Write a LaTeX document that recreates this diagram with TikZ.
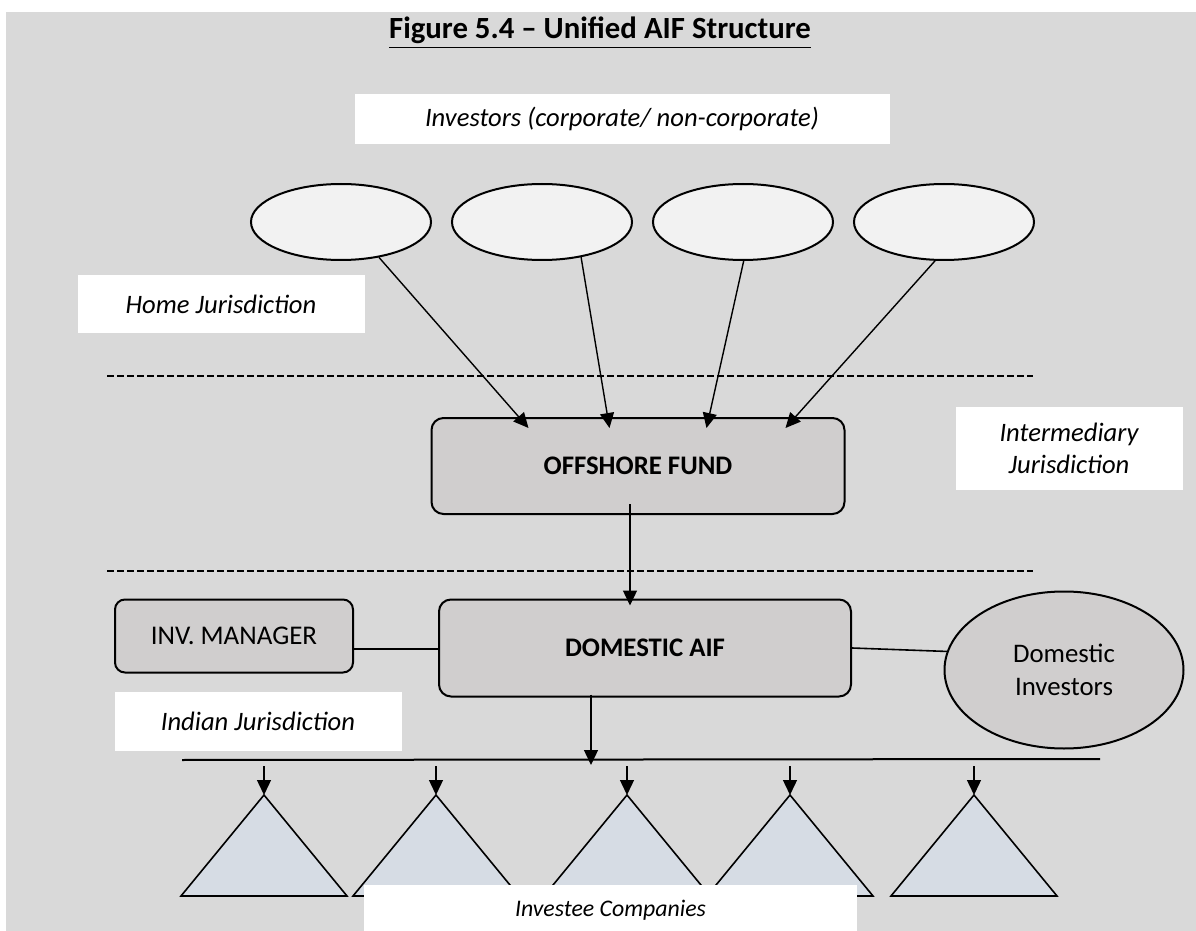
\documentclass[tikz,border=0pt]{standalone}
\usepackage{fontspec}
\setmainfont{Carlito}
\usetikzlibrary{arrows.meta,positioning,shapes.geometric,calc}
\definecolor{bggray}{HTML}{D9D9D9}
\definecolor{ellfill}{HTML}{F2F2F2}
\definecolor{boxfill}{HTML}{D0CECE}
\definecolor{trifill}{HTML}{D6DCE4}
\tikzstyle{investor} = [ellipse, draw=black, fill=ellfill, line width=1pt, minimum width=90pt, minimum height=38pt, inner sep=0pt]
\tikzstyle{fund} = [rectangle, rounded corners=6pt, draw=black, fill=boxfill, line width=1pt, font=\bfseries\fontsize{13.4}{16}\selectfont]
\tikzstyle{jurbox} = [rectangle, fill=white, inner sep=0pt, align=center, font=\itshape\fontsize{13.3}{16}\selectfont]
\tikzstyle{company} = [draw=black, fill=trifill, line width=0.8pt, line join=miter]
\tikzstyle{arrow} = [line width=0.7pt, -{Triangle[length=7.5pt,width=7pt]}]
\tikzstyle{link} = [line width=0.8pt]
\tikzstyle{border} = [line width=1pt, dash pattern=on 3.5pt off 1.5pt]

\begin{document}
\begin{tikzpicture}[x=0.5pt,y=-0.5pt]
    \useasboundingbox (0,0) rectangle (1196,931);
    \fill [bggray] (6,12) rectangle (1196,931);

    \node (title) [anchor=base, font=\bfseries\fontsize{15.4}{18}\selectfont] at (600,39) {\underline{Figure 5.4 -- Unified AIF Structure}};

    % home jurisdiction
    \node (invlbl) [jurbox, minimum width=267.5pt, minimum height=25pt] at (622,119) {Investors (corporate/ non-corporate)};
    \node (inv0) [investor] at (341,222) {};
    \node (inv1) [investor, right=9.5pt of inv0] {};
    \node (inv2) [investor, right=9.5pt of inv1] {};
    \node (inv3) [investor, right=9.5pt of inv2] {};
    \node (home) [jurbox, minimum width=143.5pt, minimum height=29pt] at (221,304) {Home Jurisdiction};

    \draw [border] (107,376) -- (1033,376);

    % intermediary jurisdiction
    \node (off0) [fund, minimum width=206.5pt, minimum height=48pt] at (638,466) {OFFSHORE FUND};
    \node (inter) [jurbox, minimum width=113.5pt, minimum height=41.5pt] at (1069,448) {Intermediary\\Jurisdiction};

    \draw [border] (107,571) -- (1033,571);

    % indian jurisdiction
    \node (aif0) [fund, minimum width=206pt, minimum height=48.5pt] at (645,648) {DOMESTIC AIF};
    \node (mgr) [fund, rounded corners=5pt, font=\fontsize{13.5}{16}\selectfont, minimum width=119pt, minimum height=36.5pt] at (234,636) {INV. MANAGER};
    \node (dom) [ellipse, draw=black, fill=boxfill, line width=1pt, minimum width=119.5pt, minimum height=78.5pt, inner sep=0pt, align=center, font=\fontsize{13.4}{16.5}\selectfont] at (1064,670) {Domestic\\Investors};
    \node (indian) [jurbox, minimum width=143.5pt, minimum height=29.5pt] at (258,721) {Indian Jurisdiction};

    \draw [arrow] (inv0.-43) -- ($(off0.north west)+(98,11)$);
    \draw [arrow] (inv1.-42) -- ($(off0.north west)+(179,11)$);
    \draw [arrow] (inv2.-89) -- ($(off0.north west)+(276,11)$);
    \draw [arrow] (inv3.-103) -- ($(off0.north west)+(355,11)$);

    \coordinate (drop0) at ([xshift=-4pt]off0.south);
    \draw [arrow] ([yshift=5.5pt]drop0) -- ([yshift=-3.5pt]drop0 |- aif0.north);

    \draw [link] ([yshift=-6.5pt]mgr.east) -- ([yshift=-6.5pt]mgr.east -| aif0.west);
    \draw [link] (aif0.east) -- (dom.171);

    % investee companies
    \coordinate (bar0) at (182,760);
    \coordinate (bar1) at (1100,759);
    \draw [line width=1pt] (bar0) -- (bar1);
    \coordinate (drop1) at (591,760);
    \draw [arrow] ([yshift=1.5pt]drop1 |- aif0.south) -- ([yshift=-2.5pt]drop1);

    \foreach \x [count=\i from 0] in {264,436,627,790,974}
    {
        \coordinate (tri\i) at (\x,795);
        \draw [company] (tri\i) -- ++(83,101) -- ++(-166,0) -- cycle;
        \draw [arrow] ([yshift=-3pt]tri\i |- bar0) -- (tri\i);
    }

    \node (investee) [jurbox, font=\itshape\fontsize{11.9}{14}\selectfont, minimum width=246.5pt, minimum height=25pt] at (610.5,910) {Investee Companies};
\end{tikzpicture}
\end{document}
